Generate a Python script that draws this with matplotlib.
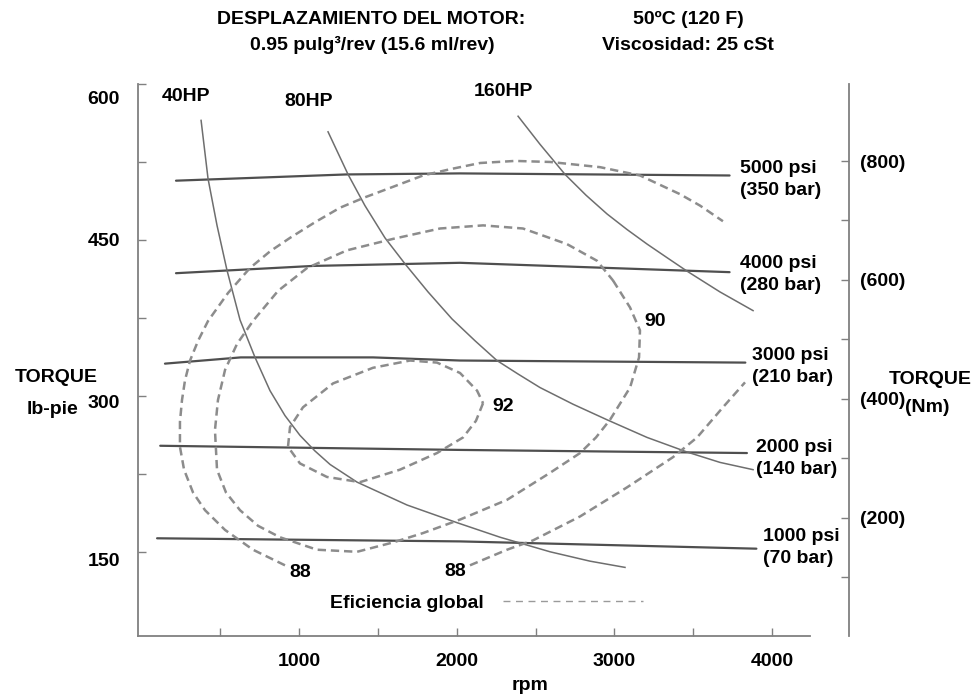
import matplotlib
matplotlib.use("Agg")
import matplotlib.pyplot as plt
import matplotlib.transforms as mtransforms
from matplotlib.lines import Line2D

plt.rcParams['font.family'] = ['Liberation Sans', 'DejaVu Sans']
plt.rcParams['font.weight'] = 'bold'
plt.rcParams['lines.scale_dashes'] = False

# constant pressure lines: rpm, torque (lb-pie)
p5000_rpm = [220, 1300, 2020, 3730]
p5000_tq = [507, 513, 514, 512]
p4000_rpm = [220, 1090, 2020, 3730]
p4000_tq = [418, 425, 428, 419]
p3000_rpm = [150, 630, 1470, 2020, 3830]
p3000_tq = [331, 337, 337, 334, 332]
p2000_rpm = [120, 2020, 3840]
p2000_tq = [252, 248, 245]
p1000_rpm = [100, 2020, 3900]
p1000_tq = [163, 160, 153]

pressure_labels = ["5000 psi\n(350 bar)", "4000 psi\n(280 bar)", "3000 psi\n(210 bar)",
                   "2000 psi\n(140 bar)", "1000 psi\n(70 bar)"]

# constant power curves
hp40_rpm = [379, 423, 480, 543, 626, 721, 816, 911, 1006, 1101, 1197, 1368, 1685,
            2002, 2275, 2592, 2845, 3067]
hp40_tq = [565, 509, 464, 421, 373, 337, 305, 281, 262, 247, 234, 217, 195,
           178, 164, 150, 141, 135]
hp80_rpm = [1184, 1311, 1418, 1545, 1672, 1818, 1970, 2116, 2255, 2389, 2528, 2737,
            2953, 3207, 3460, 3669, 3879]
hp80_tq = [554, 513, 483, 452, 427, 400, 374, 353, 334, 321, 308, 292,
           277, 260, 246, 236, 229]
hp160_rpm = [2389, 2528, 2687, 2820, 2953, 3080, 3207, 3333, 3460, 3669, 3879]
hp160_tq = [569, 542, 513, 493, 475, 460, 446, 433, 420, 400, 382]

# overall efficiency contours
eff88a_rpm = [911, 708, 531, 404, 328, 271, 245, 245, 258, 277, 309, 360, 423, 550,
              689, 816, 943, 1101, 1260, 1418, 1577, 1786, 1957, 2148, 2370, 2592,
              2909, 3162, 3416, 3543, 3688]
eff88a_tq = [137, 152, 171, 190, 207, 229, 251, 275, 296, 315, 334, 353, 372, 399,
             423, 439, 452, 467, 481, 491, 500, 512, 518, 524, 526, 525,
             520, 512, 494, 483, 468]
eff88b_rpm = [2084, 2319, 2484, 2782, 3080, 3371, 3524, 3688, 3828]
eff88b_tq = [137, 152, 161, 184, 212, 241, 260, 289, 313]
eff90_rpm = [2991, 3099, 3162, 3156, 3099, 2972, 2883, 2782, 2592, 2319, 2021, 1786,
             1596, 1368, 1114, 879, 740, 626, 537, 480, 467, 486, 531, 607, 708,
             867, 1051, 1304, 1596, 1894, 2167, 2420, 2699, 2889, 2991]
eff90_tq = [411, 385, 363, 337, 308, 277, 260, 245, 226, 200, 181, 168,
            159, 150, 152, 164, 175, 190, 207, 229, 267, 296, 325, 350, 372,
            401, 423, 440, 451, 461, 464, 461, 446, 430, 411]
eff92_rpm = [2167, 2122, 2040, 1875, 1640, 1387, 1177, 1006, 930, 943, 1025, 1216,
             1469, 1704, 1875, 2021, 2129, 2167]
eff92_tq = [293, 276, 260, 245, 229, 217, 222, 235, 251, 270, 289, 312,
            327, 334, 332, 322, 305, 293]

rpm_ticks = [500, 1000, 1500, 2000, 2500, 3000, 3500, 4000]
rpm_labels = ["", "1000", "", "2000", "", "3000", "", "4000"]
lbft_ticks = [150, 225, 300, 375, 450, 525, 600]
lbft_labels = ["150", "", "300", "", "450", "", "600"]
nm_ticks = [100, 200, 300, 400, 500, 600, 700, 800]
nm_labels = ["", "(200)", "", "(400)", "", "(600)", "", "(800)"]

fs = 14
axis_col = "#808080"
fig = plt.figure(figsize=(9.74, 6.94), dpi=100)
ax = fig.add_axes([138/974, 58/694, 672/974, 552/694])

for r, t in [(p5000_rpm, p5000_tq), (p4000_rpm, p4000_tq), (p3000_rpm, p3000_tq),
             (p2000_rpm, p2000_tq), (p1000_rpm, p1000_tq)]:
    ax.plot(r, t, color="#4f4f4f", lw=1.6, solid_capstyle="round")

for r, t in [(hp40_rpm, hp40_tq), (hp80_rpm, hp80_tq), (hp160_rpm, hp160_tq)]:
    ax.plot(r, t, color="#6e6e6e", lw=1.1)

for r, t in [(eff88a_rpm, eff88a_tq), (eff88b_rpm, eff88b_tq),
             (eff90_rpm, eff90_tq), (eff92_rpm, eff92_tq)]:
    ax.plot(r, t, color="#8c8c8c", lw=1.8, dashes=(6, 3.5))

# pressure labels at the right end of each line
label_pos = [(3796, 508), (3796, 417), (3872, 328), (3900, 240), (3942, 154)]
for (x, y), s in zip(label_pos, pressure_labels):
    ax.text(x, y, s, fontsize=fs, ha="left", va="center", linespacing=1.35)

ax.text(283, 588, "40HP", fontsize=fs, ha="center", va="center")
ax.text(1063, 583, "80HP", fontsize=fs, ha="center", va="center")
ax.text(2293, 593, "160HP", fontsize=fs, ha="center", va="center")

ax.text(1008, 130, "88", fontsize=fs, ha="center", va="center")
ax.text(1988, 131, "88", fontsize=fs, ha="center", va="center")
ax.text(2293, 290, "92", fontsize=fs, ha="center", va="center")
ax.text(3257, 372, "90", fontsize=fs, ha="center", va="center")

ax.set_xlim(-21, 4240)
ax.set_ylim(69, 599)
ax.set_xticks(rpm_ticks, rpm_labels)
ax.set_yticks(lbft_ticks, lbft_labels)
ax.tick_params(direction="in", length=6, width=1, color=axis_col, labelsize=fs)
ax.tick_params(axis="x", pad=12)
ax.tick_params(axis="y", pad=13)
for side in ["top", "right"]:
    ax.spines[side].set_visible(False)
for side in ["left", "bottom"]:
    ax.spines[side].set_color(axis_col)
    ax.spines[side].set_linewidth(1.3)

# the torque numbers sit a little below their ticks
label_drop = {"600": 13, "300": 6, "150": 8}
for lab in ax.get_yticklabels():
    d = label_drop.get(lab.get_text(), 0)
    if d:
        lab.set_transform(lab.get_transform() +
                          mtransforms.ScaledTranslation(0, -d / 100, fig.dpi_scale_trans))

# Nm scale on a separate spine to the right
ax2 = ax.twinx()
ax2.set_ylim(0.7, 929.6)
ax2.set_yticks(nm_ticks, nm_labels)
for side in ["top", "left", "bottom"]:
    ax2.spines[side].set_visible(False)
ax2.spines["right"].set_position(("axes", 711/672))
ax2.spines["right"].set_color(axis_col)
ax2.spines["right"].set_linewidth(1.3)
ax2.tick_params(direction="in", length=6, width=1, color=axis_col, labelsize=fs, pad=8)

leg_line = Line2D([], [], color="#9a9a9a", lw=1.0, dashes=(5, 4))
fig.legend(handles=[leg_line], labels=["Eficiencia global"], markerfirst=False,
           frameon=False, loc="center left", bbox_to_anchor=(330/974, 1 - 603/694),
           borderpad=0, borderaxespad=0, handlelength=7.2, handletextpad=1.0,
           prop={"size": fs, "weight": "bold"})

fig.text(56/974, 1 - 378/694, "TORQUE", fontsize=fs, ha="center", va="center")
fig.text(53/974, 1 - 410/694, "lb-pie", fontsize=fs, ha="center", va="center")
fig.text(930/974, 1 - 380/694, "TORQUE", fontsize=fs, ha="center", va="center")
fig.text(927/974, 1 - 407/694, "(Nm)", fontsize=fs, ha="center", va="center")
fig.text(530/974, 1 - 685/694, "rpm", fontsize=fs, ha="center", va="center")

fig.text(371/974, 1 - 19/694, "DESPLAZAMIENTO DEL MOTOR:", fontsize=14, ha="center", va="center")
fig.text(372/974, 1 - 45/694, "0.95 pulg\u00b3/rev (15.6 ml/rev)", fontsize=14, ha="center", va="center")
fig.text(688/974, 1 - 19/694, "50\u00baC (120 F)", fontsize=14, ha="center", va="center")
fig.text(688/974, 1 - 45/694, "Viscosidad: 25 cSt", fontsize=14, ha="center", va="center")

fig.savefig("out.png", dpi=100)
